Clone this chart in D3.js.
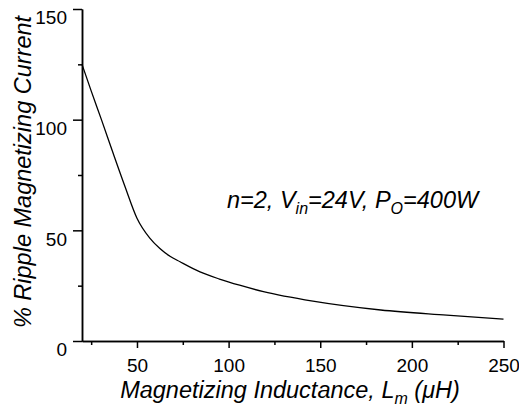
<!DOCTYPE html>
<html>
<head>
<meta charset="utf-8">
<script src="https://cdn.jsdelivr.net/npm/d3@7"></script>
<style>
  body { margin: 0; background: #fff; }
  svg { font-family: "Liberation Sans", Arial, sans-serif; }
  .axis path, .axis line { stroke: #000; stroke-width: 1.5; }
  .axis text { font-size: 19px; fill: #000; }
</style>
</head>
<body>
<svg class="chart"></svg>
<script>
// values
var inductance = [20, 25, 30.7, 37, 43.5, 50, 57, 62.5, 68, 73.5, 84.4, 95, 106, 119, 146, 183, 219, 250];
var ripple = [125, 113, 99.8, 84.8, 69.7, 55.5, 46.5, 41.8, 38.3, 35.8, 31.2, 28.0, 25.2, 22.3, 18.0, 14.0, 11.7, 9.9];
var xMajor = [50, 100, 150, 200, 250];
var xMinor = [25, 75, 125, 175, 225];
var yMajor = [0, 50, 100, 150];
var yMinor = [25, 75, 125];

var width = 519;
var height = 409;

var x = d3.scaleLinear().domain([20, 250]).range([82, 503.5]);
var y = d3.scaleLinear().domain([0, 150]).range([341, 9]);

var svg = d3.select('.chart')
  .attr('width', width)
  .attr('height', height);

//X axis
svg.append('g')
  .attr('class', 'x axis')
  .attr('transform', 'translate(0,' + y(0) + ')')
  .call(d3.axisBottom(x).tickValues(xMinor).tickSize(4).tickSizeOuter(0).tickFormat(''));

svg.append('g')
  .attr('class', 'x axis')
  .attr('transform', 'translate(0,' + y(0) + ')')
  .call(d3.axisBottom(x).tickValues(xMajor).tickSize(7).tickSizeOuter(0))
  .call(g => g.selectAll('text').attr('y', 18).attr('dy', '0.71em'));

//Y axis
svg.append('g')
  .attr('class', 'y axis')
  .attr('transform', 'translate(' + x(20) + ',0)')
  .call(d3.axisLeft(y).tickValues(yMinor).tickSize(4).tickSizeOuter(0).tickFormat(''));

svg.append('g')
  .attr('class', 'y axis')
  .attr('transform', 'translate(' + x(20) + ',0)')
  .call(d3.axisLeft(y).tickValues(yMajor).tickSize(9).tickSizeOuter(0))
  .call(g => g.selectAll('text').attr('x', -15).attr('dy', '0.78em'));

// curve
var line = d3.line()
  .x((d, i) => x(inductance[i]))
  .y(d => y(d))
  .curve(d3.curveMonotoneX);

svg.append('path')
  .datum(ripple)
  .attr('fill', 'none')
  .attr('stroke', '#000')
  .attr('stroke-width', 1.3)
  .attr('d', line);

// axis titles
var xt = svg.append('text')
  .attr('x', 290)
  .attr('y', 398)
  .attr('text-anchor', 'middle')
  .style('font-size', '23.5px')
  .style('font-style', 'italic');
xt.append('tspan').text('Magnetizing Inductance, L');
xt.append('tspan').attr('dy', 6).style('font-size', '16px').text('m');
xt.append('tspan').attr('dy', -6).text(' (\u03bcH)');

svg.append('text')
  .attr('transform', 'translate(31,172) rotate(-90)')
  .attr('text-anchor', 'middle')
  .style('font-size', '23.5px')
  .style('font-style', 'italic')
  .text('% Ripple Magnetizing Current');

// annotation
var note = svg.append('text')
  .attr('x', 227)
  .attr('y', 208)
  .style('font-size', '23.5px')
  .style('font-style', 'italic');
note.append('tspan').text('n=2, V');
note.append('tspan').attr('dy', 6).style('font-size', '16px').text('in');
note.append('tspan').attr('dy', -6).text('=24V, P');
note.append('tspan').attr('dy', 6).style('font-size', '16px').text('O');
note.append('tspan').attr('dy', -6).text('=400W');
</script>
</body>
</html>
